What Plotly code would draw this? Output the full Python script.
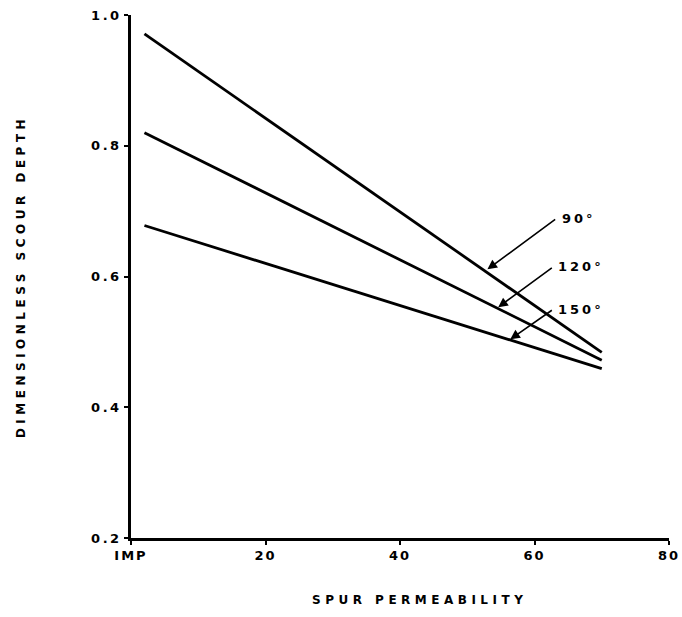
import plotly.graph_objects as go

# Data
permeability = [2, 70]
depth_90 = [0.971, 0.484]
depth_120 = [0.820, 0.472]
depth_150_x = [2, 70]
depth_150 = [0.678, 0.459]

x_tick_vals = [0, 20, 40, 60, 80]
x_tick_text = ["IMP", "20", "40", "60", "80"]
y_tick_vals = [0.2, 0.4, 0.6, 0.8, 1.0]
y_tick_text = ["0.2", "0.4", "0.6", "0.8", "1.0"]

labels = ["90°", "120°", "150°"]
arrow_heads_x = [53.0, 54.6, 56.4]
arrow_heads_y = [0.611, 0.553, 0.504]
arrow_tails_x = [63.3, 62.8, 62.8]
arrow_tails_y = [0.689, 0.615, 0.550]

x_title = "SPUR PERMEABILITY"
y_title = "DIMENSIONLESS SCOUR DEPTH"

FONT = "DejaVu Sans"
line_style = dict(color="black", width=2.8)


def spaced(s, px):
    return f'<span style="letter-spacing:{px}px">{s}</span>'


fig = go.Figure()
fig.add_trace(go.Scatter(x=permeability, y=depth_90, mode="lines", line=line_style, name="90°"))
fig.add_trace(go.Scatter(x=permeability, y=depth_120, mode="lines", line=line_style, name="120°"))
fig.add_trace(go.Scatter(x=depth_150_x, y=depth_150, mode="lines", line=line_style, name="150°"))

for lab, hx, hy, tx, ty in zip(labels, arrow_heads_x, arrow_heads_y, arrow_tails_x, arrow_tails_y):
    fig.add_annotation(
        x=hx, y=hy, ax=tx, ay=ty, xref="x", yref="y", axref="x", ayref="y",
        text="", showarrow=True, arrowhead=2, arrowsize=1.2, arrowwidth=1.6,
        arrowcolor="black",
    )
    fig.add_annotation(
        x=tx, y=ty, xref="x", yref="y", text=spaced(lab, 3), showarrow=False,
        xanchor="left", yanchor="middle", xshift=3,
        font=dict(family=FONT, size=13, color="black", weight="bold"),
    )

# x-axis title (placed slightly right of centre, as in the reference)
fig.add_annotation(
    x=0.537, y=0, xref="paper", yref="paper", yshift=-62,
    text=spaced(x_title, 4.5), showarrow=False,
    xanchor="center", yanchor="middle",
    font=dict(family=FONT, size=12, color="black", weight="bold"),
)

fig.update_layout(
    width=682, height=617,
    margin=dict(l=131, r=13, t=15, b=79),
    paper_bgcolor="white", plot_bgcolor="white",
    showlegend=False,
    font=dict(family=FONT, size=12, color="black"),
)
fig.update_xaxes(
    range=[0, 80], tickvals=x_tick_vals,
    ticktext=[spaced(t, 2) for t in x_tick_text],
    automargin=False, ticklabeloverflow="allow",
    showgrid=False, zeroline=False, showline=True, linecolor="black", linewidth=2.5,
    ticks="outside", ticklen=4, tickwidth=2, tickcolor="black",
    tickfont=dict(family=FONT, size=13, color="black", weight="bold"),
)
fig.update_yaxes(
    range=[0.2, 1.0], tickvals=y_tick_vals,
    ticktext=[spaced(t, 2.5) for t in y_tick_text],
    automargin=False, ticklabeloverflow="allow",
    showgrid=False, zeroline=False, showline=True, linecolor="black", linewidth=2.5,
    ticks="outside", ticklen=4, tickwidth=2, tickcolor="black",
    tickfont=dict(family=FONT, size=13, color="black", weight="bold"),
    title=dict(text=spaced(y_title, 4.5), standoff=63,
               font=dict(family=FONT, size=12, color="black", weight="bold")),
)

fig.write_html(
    "out.html",
    config={"displayModeBar": False},
    post_script="document.body.style.margin='0px';",
)
